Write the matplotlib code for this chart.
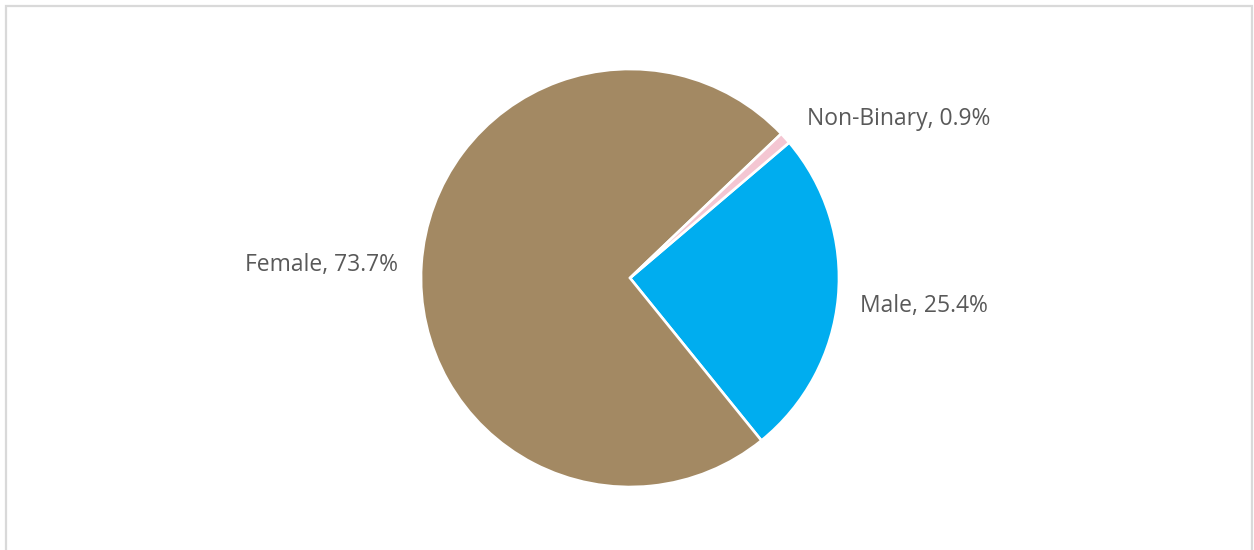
import matplotlib
matplotlib.use('Agg')
import matplotlib.pyplot as plt
from matplotlib.patches import Rectangle

# ---- data ----
labels = ['Male', 'Female', 'Non-Binary']
shares = [25.4, 73.7, 0.9]
colors = ['#00ADEF', '#A38963', '#F4C6D2']
# label anchors (pie radius units) and alignment
label_pos = [(1.10, -0.133, 'left'), (-1.11, 0.06, 'right'), (0.847, 0.762, 'left')]

plt.rcParams['font.family'] = ['Open Sans', 'DejaVu Sans']

W, H = 1254, 550
fig = plt.figure(figsize=(W / 100, H / 100), dpi=100)
ax = fig.add_axes([0, 0, 1, 1])
ax.axis('off')

# pie centre and radius in pixels
cx, cy, r = 630, 278, 209
wedges, _ = ax.pie(shares, colors=colors, startangle=40.4, counterclock=False,
                   wedgeprops=dict(edgecolor='white', linewidth=1.9),
                   normalize=True)
ax.set_xlim(-cx / r, (W - cx) / r)
ax.set_ylim(-(H - cy) / r, cy / r)

for name, v, (lx, ly, ha) in zip(labels, shares, label_pos):
    ax.text(lx, ly, f'{name}, {v}%', ha=ha, va='center', fontsize=16.5,
            color='#595959')

# light chart-area border
fig.patches.append(Rectangle((5.5 / W, -0.05), (W - 8) / W, 1.05 - 6.5 / H,
                             transform=fig.transFigure, fill=False,
                             edgecolor='#D9D9D9', linewidth=1.6))

fig.savefig('out.png', dpi=100)
